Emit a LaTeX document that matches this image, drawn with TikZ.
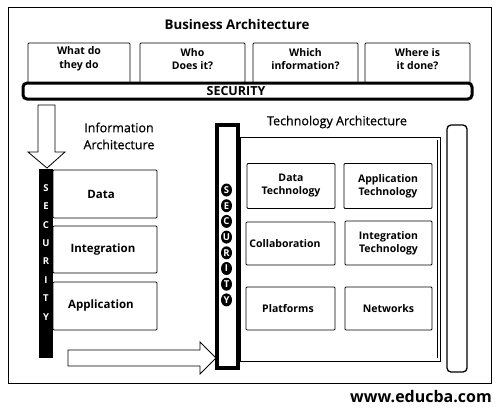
\documentclass[tikz,border=0pt]{standalone}
\usepackage{fontspec}
\usetikzlibrary{shapes.geometric}
\setmainfont{Open Sans}
\newfontface\medfont{Open Sans}[FakeBold=0.6]
\begin{document}
\begin{tikzpicture}[x=1pt,y=-1pt,
  thinbox/.style={draw=black,line width=0.8pt,fill=white,rounded corners=1pt},
  boxtext/.style={font=\bfseries\fontsize{10.5}{13.5}\selectfont,align=center,text=black},
  iatext/.style={font=\bfseries\fontsize{11.5}{14}\selectfont,text=black},
  techtext/.style={font=\bfseries\fontsize{10.5}{13}\selectfont,align=center,text=black},
  headtext/.style={font=\medfont\fontsize{12.5}{17}\selectfont,align=center,text=black},
  secletter/.style={font=\bfseries\fontsize{9.5}{10}\selectfont,text=white,inner sep=0.6pt},
  secdot/.style={secletter,ellipse,fill=black,minimum width=11pt,minimum height=13pt,inner sep=0pt},
  blockarrow/.style={draw=black,line width=0.8pt,fill=white}
]
\useasboundingbox (0,0) rectangle (500,407);
\fill[white] (0,0) rectangle (500,407);
% outer frame
\draw[line width=1pt] (8,7) rectangle (491,383);
\node[font=\bfseries\fontsize{13.3}{16}\selectfont] (title) at (237,25) {Business Architecture};
% top boxes
\node[thinbox,minimum width=102pt,minimum height=40pt] (b1) at (79,63) {};
\node[thinbox,minimum width=105pt,minimum height=40pt] (b2) at (192.5,63) {};
\node[thinbox,minimum width=105pt,minimum height=40pt] (b3) at (305.5,63) {};
\node[thinbox,minimum width=105pt,minimum height=40pt] (b4) at (417.5,63) {};
\node[boxtext] at (79,59) {What do\\they do};
\node[boxtext] at (192.5,59) {Who\\Does it?};
\node[boxtext] at (305.5,59) {Which\\information?};
\node[boxtext] at (417.5,59) {Where is\\it done?};
% top security bar
\node[draw=black,line width=3pt,fill=white,rounded corners=4pt,minimum width=449pt,minimum height=16pt] (topsec) at (247.5,91) {};
\node[font=\bfseries\fontsize{12.5}{13}\selectfont] at (236,91) {SECURITY};
% down arrow
\draw[blockarrow] (38,105) -- (55,105) -- (55,152) -- (65,152) -- (47,168) -- (28,152) -- (38,152) -- cycle;
\node[headtext] (ia) at (119,136) {Information\\Architecture};
% left security bar
\node[fill=black,minimum width=14pt,minimum height=189pt,inner sep=0pt] (lsec) at (45.5,263.5) {};
\foreach \l [count=\i from 0] in {S,E,C,U,R,I,T,Y}
  \node[secletter] at (46,188+18.4*\i) {\l};
% IA boxes
\node[thinbox,minimum width=104pt,minimum height=48pt] (data) at (105,194) {};
\node[thinbox,minimum width=104pt,minimum height=47pt] (integ) at (105,249.5) {};
\node[thinbox,minimum width=104pt,minimum height=48pt] (appl) at (105,306) {};
\node[iatext] at (101,194) {Data};
\node[iatext] at (103,249.5) {Integration};
\node[iatext] at (101,306) {Application};
% right arrow
\draw[blockarrow] (68,350) -- (200,350) -- (200,342) -- (216,358) -- (200,374) -- (200,366) -- (68,366) -- cycle;
% technology architecture
\node[headtext] (ta) at (337,122) {Technology Architecture};
\draw[line width=0.8pt] (240,137) rectangle (440,361);
\draw[line width=0.5pt] (437,140) -- (437,358);
\node[draw=black,line width=4.5pt,fill=white,minimum width=21pt,minimum height=243pt,inner sep=0pt] (tsec) at (227.5,246.5) {};
\foreach \l [count=\i from 0] in {S,E,C,U,R,I,T,Y}
  \node[secdot] at (226.5,190+15.7*\i) {\l};
% tech boxes
\node[thinbox,minimum width=88pt,minimum height=45pt] (dt) at (291,186) {};
\node[thinbox,minimum width=88pt,minimum height=45pt] (at) at (388,186) {};
\node[thinbox,minimum width=89pt,minimum height=43pt] (co) at (290.5,243.5) {};
\node[thinbox,minimum width=87pt,minimum height=44pt] (it) at (388.5,243) {};
\node[thinbox,minimum width=89pt,minimum height=43pt] (pl) at (290.5,308.5) {};
\node[thinbox,minimum width=87pt,minimum height=43pt] (nw) at (388.5,308.5) {};
\node[techtext] at (291,186) {Data\\Technology};
\node[techtext] at (388,186) {Application\\Technology};
\node[techtext] at (285,243.5) {Collaboration};
\node[techtext] at (388.5,243) {Integration\\Technology};
\node[techtext] at (288,308.5) {Platforms};
\node[techtext] at (388.5,308.5) {Networks};
% far right bar
\node[draw=black,line width=1.3pt,fill=white,rounded corners=4pt,minimum width=20pt,minimum height=247pt,inner sep=0pt] (rbar) at (457,248.5) {};
% footer
\node[font=\bfseries\fontsize{16}{18}\selectfont] (url) at (421,397) {www.educba.com};
\end{tikzpicture}
\end{document}
